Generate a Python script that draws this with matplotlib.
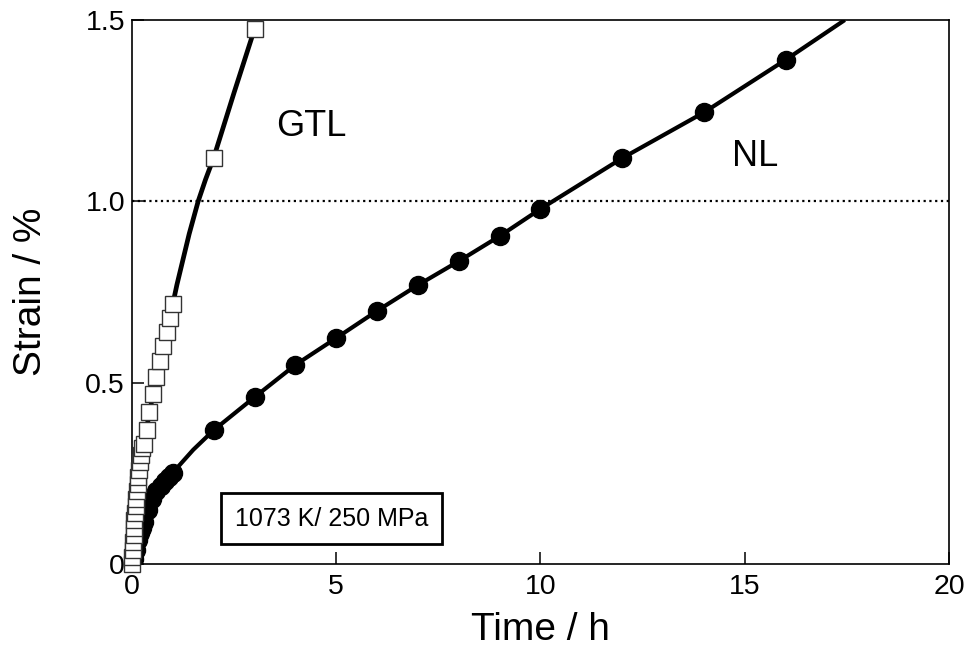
import matplotlib
matplotlib.use("Agg")
import matplotlib.pyplot as plt

plt.rcParams['font.family'] = ['Liberation Sans', 'DejaVu Sans']

# NL specimen: measured creep points (time in h, strain in %)
nl_time = [0.05, 0.1, 0.15, 0.2, 0.25, 0.3, 0.4, 0.5, 0.6, 0.7, 0.8, 0.9, 1.0,
           2, 3, 4, 5, 6, 7, 8, 9, 10, 12, 14, 16]
nl_strain = [0.015, 0.04, 0.066, 0.085, 0.10, 0.115, 0.15, 0.18, 0.20, 0.215, 0.228, 0.24, 0.252,
             0.369, 0.46, 0.549, 0.623, 0.698, 0.769, 0.835, 0.904, 0.979, 1.119, 1.245, 1.39]

# NL fitted curve
nl_fit_time = [0.0, 0.05, 0.1, 0.2, 0.3, 0.5, 0.7, 1.0, 1.5, 2, 3, 4, 5, 6, 7, 8, 9, 10, 12, 14, 16, 17.45]
nl_fit_strain = [0.0, 0.015, 0.04, 0.085, 0.115, 0.18, 0.215, 0.252, 0.315, 0.369, 0.46, 0.549, 0.623,
                 0.698, 0.769, 0.835, 0.904, 0.979, 1.119, 1.245, 1.39, 1.5]

# GTL specimen: measured creep points
gtl_time = [0.0, 0.01, 0.02, 0.03, 0.04, 0.05, 0.06, 0.075, 0.09, 0.10, 0.12, 0.14, 0.15, 0.17, 0.19, 0.21, 0.24,
            0.30, 0.36, 0.42, 0.51, 0.59, 0.69, 0.77, 0.85, 0.93, 1.0, 2.0, 3.0]
gtl_strain = [0.0, 0.02, 0.04, 0.06, 0.08, 0.10, 0.12, 0.14, 0.16, 0.18, 0.20, 0.22, 0.24, 0.26, 0.28, 0.30, 0.32,
              0.33, 0.37, 0.42, 0.47, 0.516, 0.56, 0.60, 0.64, 0.678, 0.717, 1.12, 1.475]

# GTL fitted curve
gtl_fit_time = [0.0, 0.1, 0.2, 0.3, 0.4, 0.5, 0.6, 0.7, 0.8, 0.9, 1.0, 1.1, 1.25, 1.4, 1.62, 1.8, 2.0, 2.5, 3.0]
gtl_fit_strain = [0.0, 0.17, 0.29, 0.34, 0.40, 0.46, 0.515, 0.56, 0.60, 0.65, 0.717, 0.77, 0.84, 0.91, 1.0,
                  1.06, 1.12, 1.30, 1.475]

x_ticks = [0, 5, 10, 15, 20]
x_tick_labels = ['0', '5', '10', '15', '20']
y_ticks = [0, 0.5, 1.0, 1.5]
y_tick_labels = ['0', '0.5', '1.0', '1.5']
reference_strain = 1.0

fig = plt.figure(figsize=(9.69, 6.54), dpi=100)
ax = fig.add_axes([0.1362, 0.1376, 0.8431, 0.8318])

ax.axhline(reference_strain, color='black', lw=1.6, linestyle=(0, (1, 1.6)), zorder=1)

ax.plot(nl_fit_time, nl_fit_strain, color='black', lw=3.0, zorder=2, solid_capstyle='butt')
ax.plot(nl_time, nl_strain, linestyle='none', marker='o', ms=13, mfc='black', mec='black', zorder=3)

ax.plot(gtl_fit_time, gtl_fit_strain, color='black', lw=3.4, zorder=4, solid_capstyle='butt')
ax.plot(gtl_time, gtl_strain, linestyle='none', marker='s', ms=12, mfc='white', mec='#333333',
        mew=1.0, zorder=5, clip_on=False)

ax.set_xlim(0, 20)
ax.set_ylim(0, 1.5)
ax.set_xticks(x_ticks)
ax.set_xticklabels(x_tick_labels)
ax.set_yticks(y_ticks)
ax.set_yticklabels(y_tick_labels)
ax.tick_params(direction='in', length=8.5, width=1.1, labelsize=20.5, pad=5)
ax.tick_params(axis='x', pad=7)
for s in ax.spines.values():
    s.set_linewidth(1.2)

ax.set_xlabel('Time / h', fontsize=28, labelpad=9)
ax.set_ylabel('Strain / %', fontsize=28, labelpad=26)

ax.text(4.4, 1.205, 'GTL', fontsize=26, ha='center', va='center')
ax.text(15.25, 1.125, 'NL', fontsize=26, ha='center', va='center')
ax.text(4.88, 0.125, '1073 K/ 250 MPa', fontsize=18, ha='center', va='center',
        bbox=dict(boxstyle='square,pad=0.55', fc='white', ec='black', lw=2.0))

fig.savefig('out.png', dpi=100)
